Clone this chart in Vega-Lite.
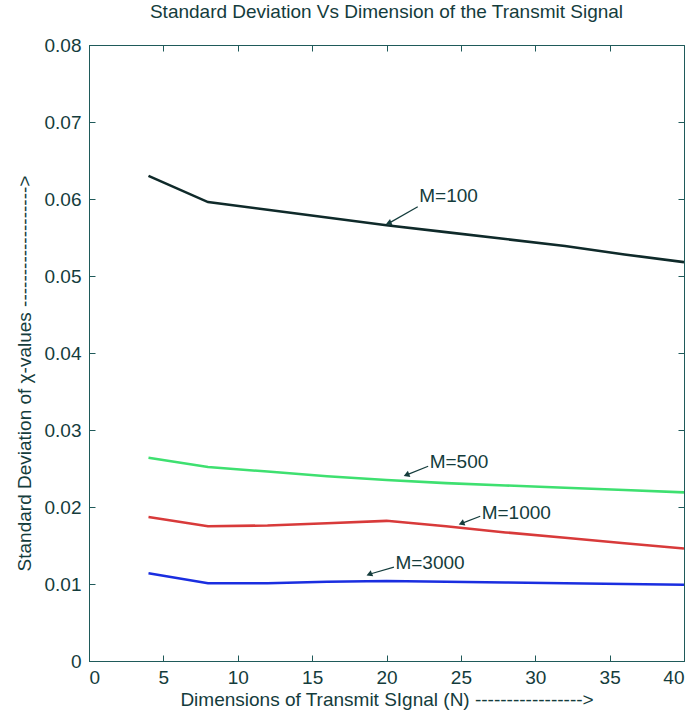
{
  "$schema": "https://vega.github.io/schema/vega-lite/v6.json",
  "width": 595,
  "height": 616,
  "autosize": {"type": "none"},
  "padding": {"left": 89, "top": 45, "right": 12, "bottom": 55},
  "background": "white",
  "title": {
    "text": "Standard Deviation Vs Dimension of the Transmit Signal",
    "font": "Liberation Sans",
    "fontSize": 19,
    "fontWeight": "normal",
    "color": "#143c3c",
    "anchor": "middle",
    "offset": 14
  },
  "config": {
    "view": {"stroke": "#1f5a5a", "strokeWidth": 1},
    "axis": {
      "grid": false,
      "domainColor": "#1f5a5a",
      "tickColor": "#1f5a5a",
      "tickSize": -6,
      "labelFont": "Liberation Sans",
      "labelFontSize": 19,
      "labelColor": "#143c3c",
      "titleFont": "Liberation Sans",
      "titleFontSize": 19,
      "titleFontWeight": "normal",
      "titleColor": "#143c3c"
    }
  },
  "datasets": {
    "curves": [
      {"N": 4, "sd": 0.0630, "M": "M=100"},
      {"N": 8, "sd": 0.0596, "M": "M=100"},
      {"N": 12, "sd": 0.0586, "M": "M=100"},
      {"N": 16, "sd": 0.0576, "M": "M=100"},
      {"N": 20, "sd": 0.0566, "M": "M=100"},
      {"N": 24, "sd": 0.0557, "M": "M=100"},
      {"N": 28, "sd": 0.0548, "M": "M=100"},
      {"N": 32, "sd": 0.0539, "M": "M=100"},
      {"N": 36, "sd": 0.0528, "M": "M=100"},
      {"N": 40, "sd": 0.0518, "M": "M=100"},
      {"N": 4, "sd": 0.0264, "M": "M=500"},
      {"N": 8, "sd": 0.0252, "M": "M=500"},
      {"N": 12, "sd": 0.0246, "M": "M=500"},
      {"N": 16, "sd": 0.0240, "M": "M=500"},
      {"N": 20, "sd": 0.0235, "M": "M=500"},
      {"N": 24, "sd": 0.0231, "M": "M=500"},
      {"N": 28, "sd": 0.0228, "M": "M=500"},
      {"N": 32, "sd": 0.0225, "M": "M=500"},
      {"N": 36, "sd": 0.0222, "M": "M=500"},
      {"N": 40, "sd": 0.0219, "M": "M=500"},
      {"N": 4, "sd": 0.0187, "M": "M=1000"},
      {"N": 8, "sd": 0.0175, "M": "M=1000"},
      {"N": 12, "sd": 0.0176, "M": "M=1000"},
      {"N": 16, "sd": 0.0179, "M": "M=1000"},
      {"N": 20, "sd": 0.0182, "M": "M=1000"},
      {"N": 24, "sd": 0.0175, "M": "M=1000"},
      {"N": 28, "sd": 0.0167, "M": "M=1000"},
      {"N": 32, "sd": 0.0160, "M": "M=1000"},
      {"N": 36, "sd": 0.0153, "M": "M=1000"},
      {"N": 40, "sd": 0.0146, "M": "M=1000"},
      {"N": 4, "sd": 0.0114, "M": "M=3000"},
      {"N": 8, "sd": 0.0101, "M": "M=3000"},
      {"N": 12, "sd": 0.0101, "M": "M=3000"},
      {"N": 16, "sd": 0.0103, "M": "M=3000"},
      {"N": 20, "sd": 0.0104, "M": "M=3000"},
      {"N": 24, "sd": 0.0103, "M": "M=3000"},
      {"N": 28, "sd": 0.0102, "M": "M=3000"},
      {"N": 32, "sd": 0.0101, "M": "M=3000"},
      {"N": 36, "sd": 0.0100, "M": "M=3000"},
      {"N": 40, "sd": 0.0099, "M": "M=3000"}
    ],
    "notes": [
      {"label": "M=100", "tx": 22.2, "ty": 0.0604, "ax": 22.1, "ay": 0.0590, "hx": 20.2, "hy": 0.0569},
      {"label": "M=500", "tx": 22.9, "ty": 0.0258, "ax": 22.8, "ay": 0.0253, "hx": 21.4, "hy": 0.0242},
      {"label": "M=1000", "tx": 26.4, "ty": 0.0192, "ax": 26.3, "ay": 0.0188, "hx": 25.1, "hy": 0.0179},
      {"label": "M=3000", "tx": 20.6, "ty": 0.0127, "ax": 20.5, "ay": 0.0122, "hx": 18.9, "hy": 0.0113}
    ]
  },
  "layer": [
    {
      "data": {"name": "curves"},
      "mark": {"type": "line", "clip": true},
      "encoding": {
        "x": {
          "field": "N", "type": "quantitative",
          "scale": {"domain": [0, 40], "nice": false, "zero": false},
          "axis": {"values": [0, 5, 10, 15, 20, 25, 30, 35, 40], "labelPadding": 13,
                   "title": "Dimensions of Transmit SIgnal (N) ----------------->", "titlePadding": 3}
        },
        "y": {
          "field": "sd", "type": "quantitative",
          "scale": {"domain": [0, 0.08], "nice": false, "zero": false},
          "axis": {"values": [0, 0.01, 0.02, 0.03, 0.04, 0.05, 0.06, 0.07, 0.08], "labelPadding": 14,
                   "labelExpr": "datum.value == 0 ? '0' : format(datum.value, '.2f')",
                   "title": "Standard Deviation of χ-values ------------------->", "titlePadding": 10, "titleY": 328}
        },
        "color": {
          "field": "M", "type": "nominal",
          "scale": {"domain": ["M=100", "M=500", "M=1000", "M=3000"], "range": ["#0f2a2a", "#3ee070", "#d83a3a", "#1a2ee0"]},
          "legend": null
        },
        "strokeWidth": {
          "field": "M", "type": "nominal",
          "scale": {"domain": ["M=100", "M=500", "M=1000", "M=3000"], "range": [2.6, 2.5, 3.6, 3.2]},
          "legend": null
        }
      }
    },
    {
      "data": {"name": "curves"},
      "mark": {"type": "point", "opacity": 0},
      "encoding": {
        "x": {"field": "N", "type": "quantitative",
              "axis": {"orient": "top", "values": [0, 5, 10, 15, 20, 25, 30, 35, 40], "labels": false, "title": null, "domain": false}},
        "y": {"field": "sd", "type": "quantitative",
              "axis": {"orient": "right", "values": [0, 0.01, 0.02, 0.03, 0.04, 0.05, 0.06, 0.07, 0.08], "labels": false, "title": null, "domain": false}}
      }
    },
    {
      "data": {"name": "notes"},
      "mark": {"type": "rule", "color": "#143c3c", "strokeWidth": 1.2},
      "encoding": {
        "x": {"field": "ax", "type": "quantitative", "axis": null},
        "y": {"field": "ay", "type": "quantitative", "axis": null},
        "x2": {"field": "hx"},
        "y2": {"field": "hy"}
      }
    },
    {
      "data": {"name": "notes"},
      "mark": {"type": "point", "shape": "triangle", "filled": true, "color": "#143c3c", "size": 45, "angle": 248, "opacity": 1},
      "encoding": {
        "x": {"field": "hx", "type": "quantitative", "axis": null},
        "y": {"field": "hy", "type": "quantitative", "axis": null}
      }
    },
    {
      "data": {"name": "notes"},
      "mark": {"type": "text", "align": "left", "baseline": "middle", "font": "Liberation Sans", "fontSize": 19, "color": "#143c3c"},
      "encoding": {
        "x": {"field": "tx", "type": "quantitative", "axis": null},
        "y": {"field": "ty", "type": "quantitative", "axis": null},
        "text": {"field": "label"}
      }
    }
  ],
  "resolve": {"axis": {"x": "independent", "y": "independent"}}
}
